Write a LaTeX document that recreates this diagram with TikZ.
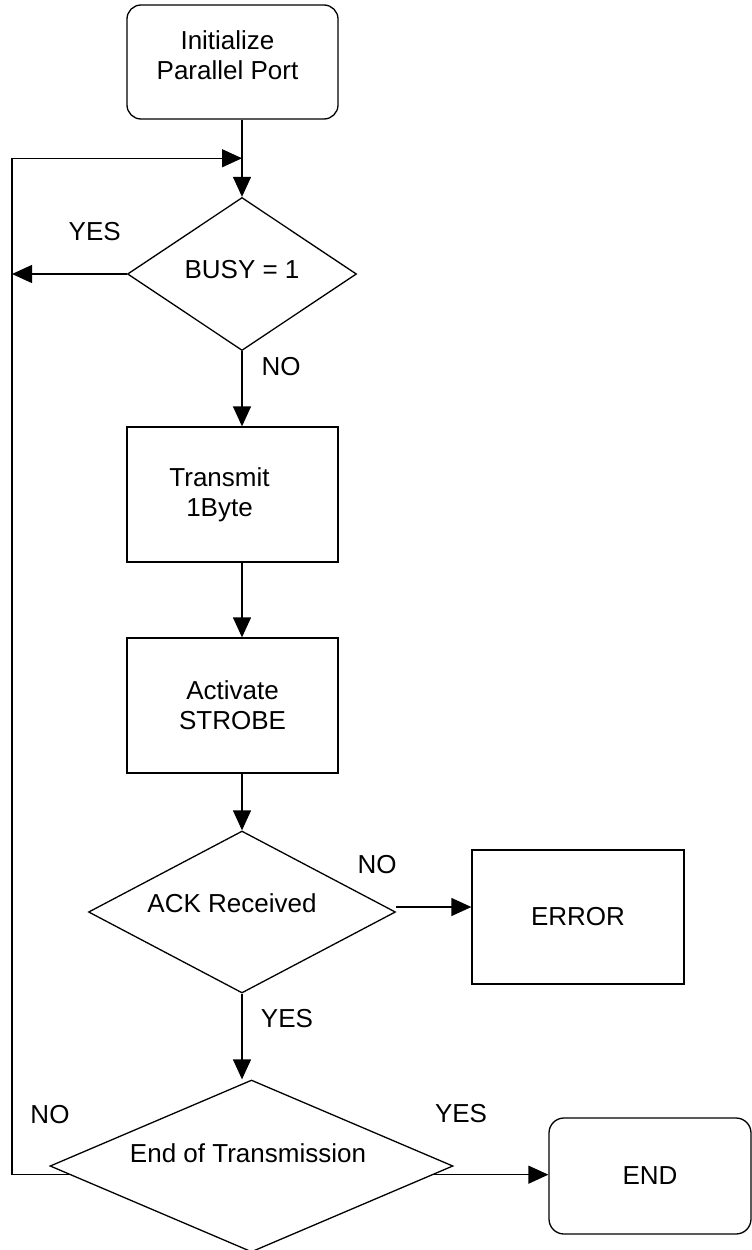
\documentclass[tikz,border=0pt]{standalone}
\usepackage{fontspec}
\setmainfont{Liberation Sans}
\usepackage{tikz}
\usetikzlibrary{arrows.meta,positioning,shapes.geometric,calc}

\tikzset{
  process/.style={draw, rectangle, minimum width=211pt, minimum height=135pt, inner sep=0pt, align=center},
  terminal/.style={draw, rectangle, rounded corners=14pt, inner sep=0pt, align=center},
  decision/.style={draw, diamond, inner sep=0pt, align=center},
}

\begin{document}
\begin{tikzpicture}[->, >={Triangle[length=20pt,width=18pt]}, line width=1.3pt, node distance=212pt, font=\fontsize{26}{30}\selectfont]
	\useasboundingbox (0,0) rectangle (752pt,-1250pt);

	\node[terminal, minimum width=211pt, minimum height=114pt, label={[xshift=-5pt, yshift=7pt, align=center]center:Initialize\\Parallel Port}] (INIT) at (232.5pt,-62pt) {};
	\node[decision, minimum width=229pt, minimum height=153pt, aspect=1.5, label={[yshift=4pt]center:BUSY = 1}] (BUSY) [below of=INIT, xshift=9.5pt] {};
	\node[process, label={[xshift=-13pt, align=center]center:Transmit\\1Byte}] (TX) [node distance=220.5pt, below of=BUSY, xshift=-9.5pt] {};
	\node[process] (STROBE) [node distance=211pt, below of=TX] {Activate\\STROBE};
	\node[decision, minimum width=307pt, minimum height=162pt, aspect=1.9, label={[xshift=-10pt, yshift=9pt]center:ACK Received}] (ACK) [node distance=206.5pt, below of=STROBE, xshift=9.5pt] {};
	\node[process, minimum width=212pt, minimum height=134pt] (ERR) [node distance=336pt, right of=ACK, yshift=-5pt] {ERROR};
	\node[decision, minimum width=403pt, minimum height=172pt, aspect=2.3, label={[xshift=-3.5pt, yshift=13pt]center:End of Transmission}] (EOT) [node distance=254pt, below of=ACK, xshift=9.5pt] {};
	\node[terminal, minimum width=202pt, minimum height=116pt, rounded corners=15pt] (END) [node distance=398.5pt, right of=EOT, yshift=-10pt] {END};

	\coordinate (JOIN) at ($(INIT.south -| BUSY.north)!0.5!(BUSY.north)$);
	\coordinate (RAIL) at (12pt,0pt);
	\coordinate (EOTL) at ($(EOT.west)!0.1!(EOT.south)$);
	\coordinate (EOTR) at ($(EOT.east)!0.1!(EOT.south)$);

	% main line
	\draw (INIT.south -| BUSY.north) -- (BUSY.north);
	\path	(BUSY.south)		edge	node[pos=0.21, xshift=39pt]	{NO}		(BUSY.south |- TX.north)
			(ACK.north |- TX.south)		edge				(ACK.north |- STROBE.north)
			(ACK.north |- STROBE.south)	edge				(ACK.north)
			(ACK.south)		edge	node[pos=0.29, xshift=45pt]	{YES}		(ACK.south |- EOT.north);

	% side exits
	\path	(BUSY.west)		edge	node[pos=0.28, yshift=42pt]	{YES}		(BUSY.west -| RAIL)
			([yshift=5pt]ACK.east)	edge	node[pos=0, xshift=-19pt, yshift=42pt]	{NO}	([yshift=5pt]ACK.east -| ERR.west)
			(EOTR)			edge	node[pos=0.24, yshift=61pt]	{YES}		(EOTR -| END.west);

	% loop back
	\draw (EOTL) -| node[pos=0.17, yshift=60pt] {NO} (RAIL |- JOIN) -- (JOIN);
\end{tikzpicture}
\end{document}
